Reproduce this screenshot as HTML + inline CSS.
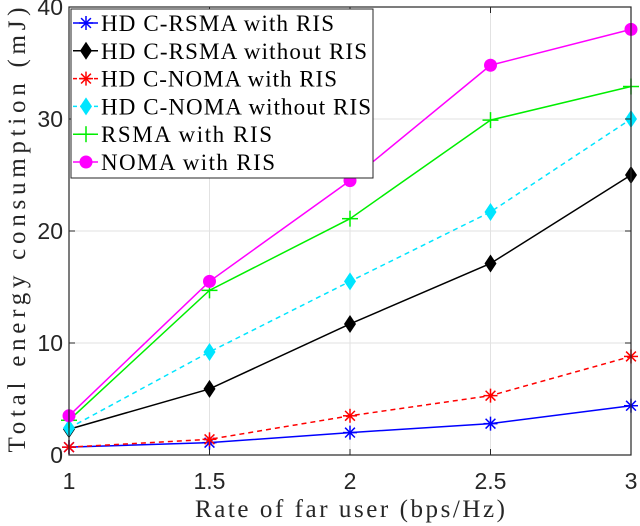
<!DOCTYPE html>
<html><head><meta charset="utf-8"><style>
body{margin:0;background:#fff}
svg{display:block}
</style></head><body>
<svg id="chart" width="640" height="526" xmlns="http://www.w3.org/2000/svg"></svg>
<script>
const xCats=[1,1.5,2,2.5,3];
const xTicks=["1","1.5","2","2.5","3"];
const yTickVals=[0,10,20,30,40];
const sBlue=[0.7,1.1,2.0,2.8,4.4];
const sBlack=[2.3,5.9,11.7,17.1,25.0];
const sRed=[0.7,1.4,3.5,5.3,8.8];
const sCyan=[2.4,9.2,15.5,21.7,30.0];
const sGreen=[3.1,14.7,21.1,29.9,32.9];
const sMagenta=[3.5,15.5,24.5,34.8,38.0];
const seriesNames=["HD C-RSMA with RIS","HD C-RSMA without RIS","HD C-NOMA with RIS","HD C-NOMA without RIS","RSMA with RIS","NOMA with RIS"];
const nameWidths=[233,266,236,270,171,174];

const L=69,R=631,T=7,B=455;
const X=v=>L+(v-1)/2*(R-L);
const Y=v=>B-v/40*(B-T);
const NS="http://www.w3.org/2000/svg";
const svg=document.getElementById('chart');
function mk(tag,attrs,parent){const e=document.createElementNS(NS,tag);for(const k in attrs)e.setAttribute(k,attrs[k]);(parent||svg).appendChild(e);return e;}

xCats.forEach((v,i)=>{const g=mk('line',{x1:X(v),x2:X(v),y1:T,y2:B,stroke:'#e2e2e2','stroke-width':1});

});
yTickVals.forEach(v=>{const g=mk('line',{x1:L,x2:R,y1:Y(v),y2:Y(v),stroke:'#e2e2e2','stroke-width':1});

});

const defs=[
 {d:sBlue,c:'#0000ff',dash:'',m:'star'},
 {d:sBlack,c:'#000000',dash:'',m:'diamond'},
 {d:sRed,c:'#ff0000',dash:'5,4',m:'star'},
 {d:sCyan,c:'#00e5ff',dash:'5,4',m:'diamond'},
 {d:sGreen,c:'#00ee00',dash:'',m:'plus'},
 {d:sMagenta,c:'#ff00ff',dash:'',m:'circle'}];
function marker(type,x,y,c,g){
 if(type==='star'){const r=7;[[0,r],[r,0],[r*.7,r*.7],[r*.7,-r*.7]].forEach(p=>mk('line',{x1:x-p[0],y1:y-p[1],x2:x+p[0],y2:y+p[1],stroke:c,'stroke-width':1.5},g));}
 else if(type==='diamond'){mk('polygon',{points:`${x},${y-9} ${x+6},${y} ${x},${y+9} ${x-6},${y}`,fill:c},g);}
 else if(type==='plus'){const r=8;mk('line',{x1:x-r,y1:y,x2:x+r,y2:y,stroke:c,'stroke-width':1.5},g);mk('line',{x1:x,y1:y-r,x2:x,y2:y+r,stroke:c,'stroke-width':1.5},g);}
 else{mk('circle',{cx:x,cy:y,r:6.5,fill:c},g);}
}
defs.forEach((s,si)=>{
 const g=mk('g',{});
 
 
 const pts=s.d.map((v,i)=>X(xCats[i])+','+Y(v)).join(' ');
 mk('polyline',{points:pts,fill:'none',stroke:s.c,'stroke-width':1.5,'stroke-dasharray':s.dash},g);
 s.d.forEach((v,i)=>marker(s.m,X(xCats[i]),Y(v),s.c,g));
});

const box=mk('rect',{x:L,y:T,width:R-L,height:B-T,fill:'none',stroke:'#262626','stroke-width':1.2});


xCats.forEach((v,i)=>{
 mk('line',{x1:X(v),x2:X(v),y1:B,y2:B-6,stroke:'#262626'});
 mk('line',{x1:X(v),x2:X(v),y1:T,y2:T+6,stroke:'#262626'});
 const t=mk('text',{x:X(v),y:B+34,'text-anchor':'middle','font-family':'Liberation Sans, sans-serif','font-size':23,fill:'#262626'});
 t.textContent=xTicks[i];
 
 
});
yTickVals.forEach(v=>{
 mk('line',{x1:L,x2:L+6,y1:Y(v),y2:Y(v),stroke:'#262626'});
 mk('line',{x1:R,x2:R-6,y1:Y(v),y2:Y(v),stroke:'#262626'});
 const t=mk('text',{x:L-6,y:Y(v)+8,'text-anchor':'end','font-family':'Liberation Sans, sans-serif','font-size':23,fill:'#262626'});
 t.textContent=String(v);
 
 
});
const xt=mk('text',{x:350,y:517,'text-anchor':'middle','font-family':'Liberation Serif, serif','font-size':25,fill:'#262626',textLength:310,lengthAdjust:'spacing'});
xt.textContent='Rate of far user (bps/Hz)';


const yt=mk('text',{x:0,y:0,transform:'translate(25,230) rotate(-90)','text-anchor':'middle','font-family':'Liberation Serif, serif','font-size':25,fill:'#262626',textLength:445,lengthAdjust:'spacing'});
yt.textContent='Total energy consumption (mJ)';



const lg=mk('g',{});


mk('rect',{x:71,y:9,width:302,height:169,fill:'#fff',stroke:'#262626','stroke-width':1},lg);
defs.forEach((s,i)=>{
 const yy=23+i*27.8;
 const e=mk('g',{},lg);
 
 
 mk('line',{x1:73,x2:98,y1:yy,y2:yy,stroke:s.c,'stroke-width':1.5,'stroke-dasharray':s.dash?'4,3':''},e);
 marker(s.m,86,yy,s.c,e);
 const t=mk('text',{x:101,y:yy+8,'font-family':'Liberation Serif, serif','font-size':23,fill:'#000',textLength:nameWidths[i],lengthAdjust:'spacing'},e);
 t.textContent=seriesNames[i];
});
</script>
</body></html>
